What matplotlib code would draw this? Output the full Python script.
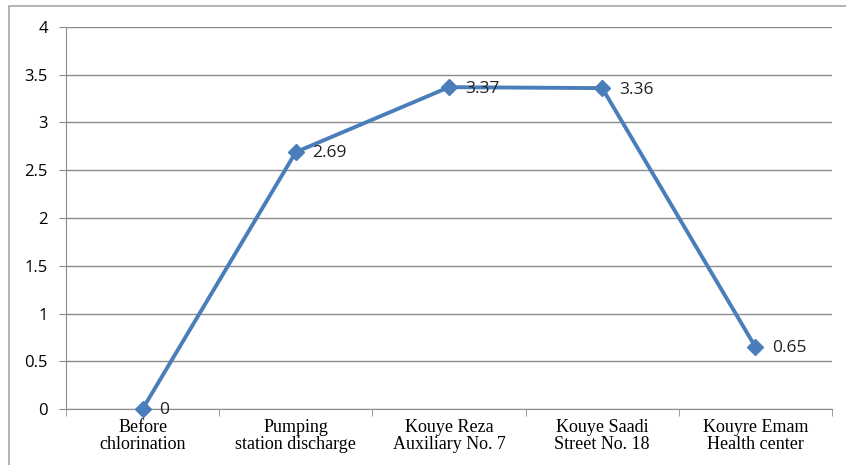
import numpy as np
import matplotlib.pyplot as plt
from matplotlib.patches import Rectangle

# Titik sampling dan kadar klor
stations = ["Before\nchlorination", "Pumping\nstation discharge",
            "Kouye Reza\nAuxiliary No. 7", "Kouye Saadi\nStreet No. 18",
            "Kouyre Emam\nHealth center"]
chlorine = [0, 2.69, 3.37, 3.36, 0.65]
value_labels = ["0", "2.69", "3.37", "3.36", "0.65"]
yticks = [0, 0.5, 1, 1.5, 2, 2.5, 3, 3.5, 4]
ytick_labels = ["0", "0.5", "1", "1.5", "2", "2.5", "3", "3.5", "4"]

W, H = 846, 465
fig = plt.figure(figsize=(W/100, H/100), dpi=100)

# bingkai luar chart
fig.patches.append(Rectangle((9/W, -0.05), 1.1, 1 - 6/H + 0.05,
                             transform=fig.transFigure, fill=False,
                             edgecolor="#a6a6a6", linewidth=1.2))

ax = fig.add_axes([66/W, (H-409)/H, (832-66)/W, (409-27)/H])
x = np.arange(len(stations))
ax.plot(x, chlorine, color="#4a7ebb", lw=2.8, marker="D", ms=8,
        markeredgecolor="#4a7ebb", zorder=3, clip_on=False)

for xi, yi, lab in zip(x, chlorine, value_labels):
    ax.annotate(lab, (xi, yi), xytext=(12, -1), textcoords="offset points",
                fontsize=12.5, family="Open Sans", color="#222222", va="center")

ax.set_xlim(-0.5, len(stations) - 0.5)
ax.set_ylim(0, 4)
ax.set_yticks(yticks)
ax.set_yticklabels(ytick_labels, family="Open Sans", fontsize=12)
ax.set_xticks(x)
ax.set_xticklabels(stations, family="Liberation Serif", fontsize=13,
                   linespacing=1.05)
ax.set_xticks(np.arange(len(stations) + 1) - 0.5, minor=True)
ax.tick_params(axis="x", which="major", length=0, pad=7)
ax.tick_params(axis="x", which="minor", length=5, color="#8c8c8c")
ax.tick_params(axis="y", length=5, color="#8c8c8c", pad=8)
ax.yaxis.grid(True, color="#8c8c8c", lw=1)
ax.set_axisbelow(True)
for s in ["top", "right"]:
    ax.spines[s].set_visible(False)
for s in ["left", "bottom"]:
    ax.spines[s].set_color("#8c8c8c")

fig.savefig("out.png", dpi=100)
